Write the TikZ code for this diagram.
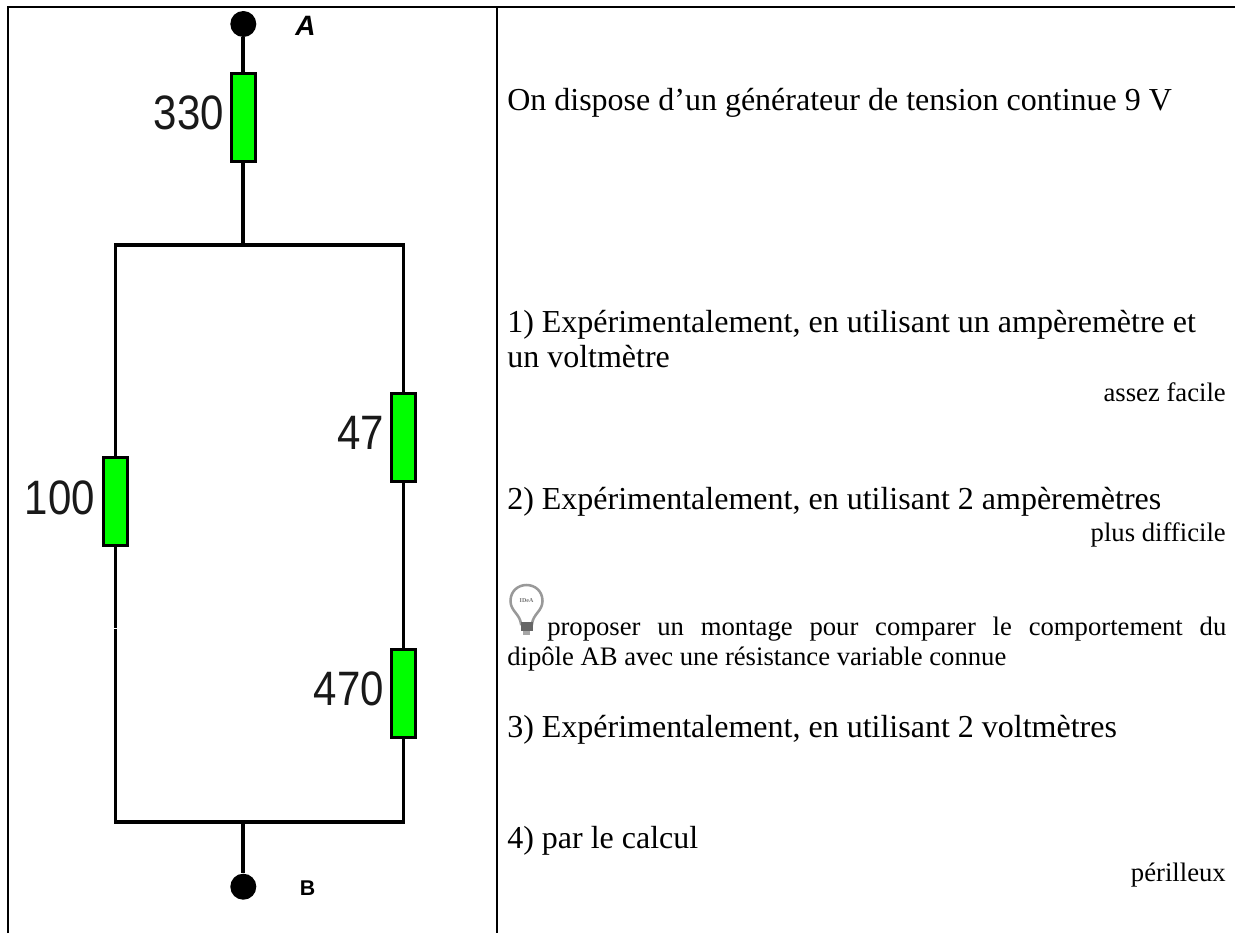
\documentclass[tikz,border=0pt]{standalone}
\usepackage{graphicx}
\usepackage{fontspec}
\setmainfont{Liberation Serif}
\newfontfamily\lblfont{Liberation Sans}
\newcommand{\tallnum}[1]{\scalebox{1}[1.15]{#1}}
\tikzset{
  x=0.75pt,y=-0.75pt,
  frameline/.style={line width=1.5pt},
  wire/.style={line width=2.8pt},
  resistor/.style={draw,line width=2.5pt,fill=green,minimum width=24*0.75pt,minimum height=88*0.75pt,inner sep=0pt,outer sep=0pt},
  terminal/.style={circle,fill=black,minimum size=26*0.75pt,inner sep=0pt},
  rlabel/.style={font=\lblfont\fontsize{31.5pt}{33pt}\selectfont,anchor=east,inner sep=0pt,text=black!90},
  pole/.style={font=\lblfont\bfseries\fontsize{16pt}{18pt}\selectfont,inner sep=0pt},
  big/.style={font=\fontsize{24pt}{28pt}\selectfont,anchor=base west,inner sep=0pt},
  small/.style={font=\fontsize{20pt}{23pt}\selectfont,anchor=base east,inner sep=0pt},
  midtext/.style={font=\fontsize{20pt}{23pt}\selectfont,anchor=base west,inner sep=0pt},
}
\begin{document}
\begin{tikzpicture}
\useasboundingbox (0,0) rectangle (1235,933);
\fill[white] (0,0) rectangle (1235,933);
% frame
\draw[frameline] (8,933) -- (8,6.7) -- (1235,6.7);
\draw[frameline] (497,6.7) -- (497,933);
% nodes
\node[terminal] (A) at (243.3,24) {};
\node[terminal] (B) at (243.3,886.7) {};
\node[resistor] (r330) at (243.3,117.5) {};
\node[resistor] (r100) at (115.5,501.5) {};
\node[resistor] (r47) at (403.5,437.5) {};
\node[resistor] (r470) at (403.5,693.5) {};
\coordinate (tj) at (243.3,245);
\coordinate (tl) at (115.5,245);
\coordinate (tr) at (403.5,245);
\coordinate (bj) at (243.3,822);
\coordinate (bl) at (115.5,822);
\coordinate (br) at (403.5,822);
\coordinate (gapa) at (115.5,627.6);
\coordinate (gapb) at (115.5,628.6);
% wires
\draw[wire] (A) -- (r330);
\draw[wire] (r330) -- (tj);
\draw[wire,line cap=rect] (tl) -- (tr);
\draw[wire] (tl) -- (r100);
\draw[wire] (tr) -- (r47);
\draw[wire] (r47) -- (r470);
\draw[wire] (r100) -- (gapa);
\draw[wire] (gapb) -- (bl);
\draw[wire] (r470) -- (br);
\draw[wire,line cap=rect] (bl) -- (br);
\draw[wire] (bj) -- (B);
% labels
\node[rlabel] (l330) at (224,112.5) {\tallnum{330}};
\node[rlabel] (l100) at (95,497.5) {\tallnum{100}};
\node[rlabel] (l47) at (384,433) {\tallnum{47}};
\node[rlabel] (l470) at (384,689) {\tallnum{470}};
\node[pole,font=\lblfont\bfseries\itshape\fontsize{21pt}{23pt}\selectfont] (pA) at (305.5,25.5) {A};
\node[pole] (pB) at (307.5,888) {B};
% texts
\node[big] (t0) at (507,110) {On dispose d’un générateur de tension continue 9 V};
\node[big] (t1) at (507,332) {1) Expérimentalement, en utilisant un ampèremètre et};
\node[big] (t1b) at (507,367) {un voltmètre};
\node[small] (s1) at (1226,401) {assez facile};
\node[big] (t2) at (507,509) {2) Expérimentalement, en utilisant 2 ampèremètres};
\node[small] (s2) at (1226,541) {plus difficile};
\node[midtext,text width=679*0.75pt] (m1) at (547,635) {proposer\hfill un\hfill montage\hfill pour\hfill comparer\hfill le\hfill comportement\hfill du};
\node[midtext] (m2) at (507,665) {dipôle AB avec une résistance variable connue};
\node[big] (t3) at (507,737) {3) Expérimentalement, en utilisant 2 voltmètres};
\node[big] (t4) at (507,848) {4) par le calcul};
\node[small] (s4) at (1226,881) {périlleux};
% bulb icon
\draw[line width=1.9pt,draw=black!40,fill=white] (521,624) .. controls (520,614) and (510.5,611) .. (510.5,601) .. controls (510.5,591) and (518,585) .. (526.5,585) .. controls (535,585) and (542.5,591) .. (542.5,601) .. controls (542.5,611) and (533,614) .. (532,624) -- cycle;
\fill[black!60] (520.5,622) rectangle (532.5,631);
\fill[black!35] (523,631) rectangle (530,635);
\node[font=\fontsize{4.5pt}{5pt}\selectfont\bfseries,text=black!55,inner sep=0pt] (idea) at (526.5,601) {IDeA};
\end{tikzpicture}
\end{document}
